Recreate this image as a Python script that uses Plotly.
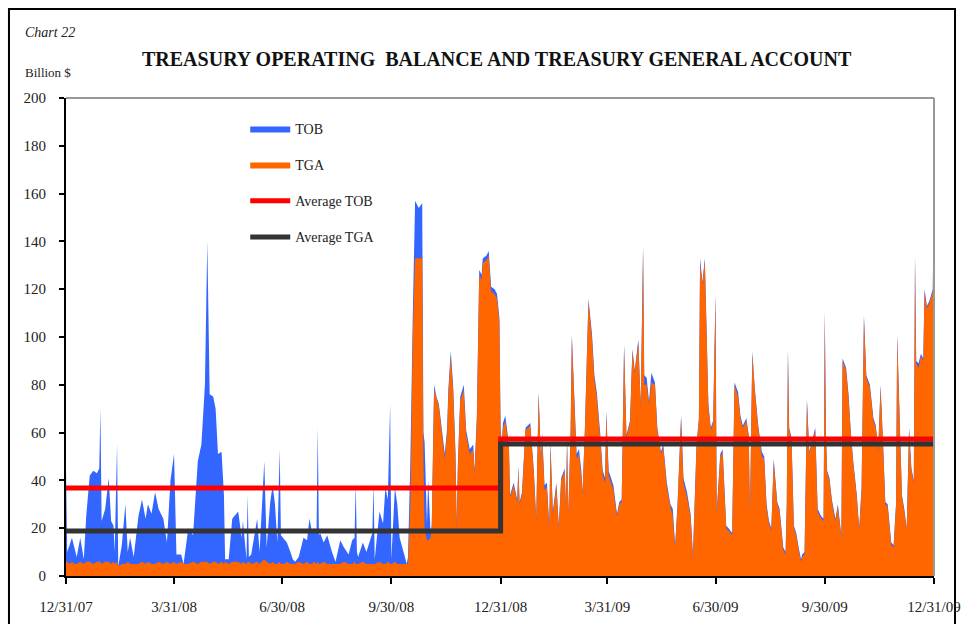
import plotly.graph_objects as go
import pandas as pd

# day offsets from 12/31/07
days_a = [0,1,3,5,7,9,12,15,17,20,23,26,28,29,30,33,36,38,40,41,
          43,44,47,50,52,54,57,61,64,67,69,72,75,78,82,85,88,91,93,97,
          99,103,107,111,114,117,119,121,124,126,128,131,133,134,137,140,145,148,149,152,
          153,154,156,161,163,167,169,172,174,176,178,180,181,184,186,189,191,193,196,200,
          203,205,207,209,211,212,213,214,217,220,224,227,231,234,238,241,243,244,245,246,
          250,253,256,258,259,260,264,267,269,271,273,274,277,279,281,285,287]
tob_a = [45,10,13,16,12,8,16,7,25,42,44,43,45,70,23,28,41,23,21,10,
         55,4,13,30,10,16,8,25,32,24,30,26,35,28,24,14,40,51,9,9,
         5,20,17,48,55,80,140,76,75,70,51,52,34,7,7,24,27,16,23,7,
         34,8,9,24,10,48,12,31,38,30,14,53,17,15,14,10,7,6,8,16,
         15,24,19,20,18,62,17,18,14,17,10,6,15,12,9,15,16,39,10,8,
         14,10,15,18,39,7,27,22,37,32,72,7,37,30,16,9,5]
tga_a = [6,6,5,6,5,5,6,5,6,6,5,6,6,6,5,6,6,5,6,5,
         6,4,5,5,6,5,5,5,6,5,6,5,5,6,5,6,5,6,5,6,
         5,5,6,5,6,6,6,5,6,6,5,6,5,6,5,6,6,5,6,5,
         6,6,5,6,5,7,6,5,6,5,5,6,5,5,6,5,5,5,6,5,
         6,5,5,6,5,6,5,5,6,5,5,5,5,6,5,5,6,5,5,5,
         6,5,5,5,5,5,6,5,5,6,5,5,6,5,5,5,5]

days_b = [288,290,292,294,297,300,301,302,304,305,307,308,310,312,314,316,319,321,322,324,
          326,328,329,330,332,335,337,340,343,344,346,348,350,351,354,356,358,361,363,365,
          366,367,368,370]
tob_b = [8,48,108,157,154,156,60,56,22,40,18,21,80,75,72,64,51,62,78,94,
         80,52,22,47,75,80,61,53,55,44,67,128,126,133,134,136,121,120,118,108,
         62,55,64,67]
tga_b = [5,30,100,133,133,133,50,20,15,15,16,20,78,74,71,62,49,60,76,92,
         78,50,20,45,73,78,59,51,53,42,65,126,124,131,132,134,119,118,116,106,
         60,53,62,65]

days_c = [373,374,377,380,381,382,384,387,391,394,396,398,400,401,403,405,407,408,410,413,
          415,417,420,421,422,423,425,426,428,430,432,434,435,437,440,443,445,447,450,452,
          454,455,457,461,464,466,468,470,472,475,477,479,482,484,486,487,489,491,493,496,
          498,501,503,506,509,511,513,515,518,520,523,526,528,531,533,534,536,538,541,543,
          545,547,548]
tob_c = [55,34,39,32,46,31,35,62,64,44,24,77,49,60,38,39,21,56,27,39,
         21,41,45,30,58,26,62,101,72,51,53,44,35,62,116,101,84,77,59,44,
         41,69,44,38,26,31,32,97,59,65,95,86,99,72,138,84,83,73,85,81,
         62,52,55,39,30,28,13,30,67,41,35,26,9,55,66,133,123,133,72,62,
         65,118,27]
tga_c = [54,33,38,31,45,30,34,61,63,43,23,76,48,59,36,37,20,55,26,38,
         20,40,44,29,57,25,60,100,70,49,51,42,34,61,115,99,82,75,57,42,
         39,68,42,36,25,30,31,96,58,64,94,85,98,70,137,80,80,72,81,80,
         61,51,54,37,29,25,12,29,66,39,33,25,8,54,65,131,122,132,71,61,
         64,117,26]

days_d = [551,553,556,558,561,563,566,568,570,573,575,576,578,580,583,586,588,590,592,594,
          596,599,601,604,606,607,608,609,611,613,615,617,619,620,622,624,626,628,631,633,
          636,638,639,640,641,643,645,648,650,653,654,657,659,661,663,666,668,670,672,674,
          677,680,682,684,686,688,690,692,695,697,699,700,702,704,706,708,710,712,714,715,
          716,718,720,722,723,725,727,729,730,731]
tob_d = [51,53,21,20,18,81,77,67,63,66,59,27,94,79,63,52,50,30,23,20,
         49,31,28,12,10,30,95,62,58,21,18,12,7,9,10,74,52,56,62,28,
         25,24,111,60,44,41,32,24,30,17,91,87,76,60,48,34,20,37,109,84,
         80,66,63,53,80,57,31,30,14,13,30,101,63,34,28,20,62,45,40,134,
         90,89,93,91,120,113,115,118,120,175]
tga_d = [50,52,20,19,17,80,75,66,62,65,58,26,93,78,62,50,49,29,22,19,
         48,30,27,11,9,29,94,61,57,20,17,11,6,8,9,73,51,55,61,27,
         24,23,110,59,43,40,31,23,29,16,90,86,75,59,47,33,19,36,108,83,
         79,65,62,52,79,56,30,29,13,12,29,100,62,33,27,19,61,44,39,133,
         89,87,92,90,119,112,114,117,119,175]

# yearly averages (2008, 2009)
avg_dates = ['2007-12-31', '2008-12-31', '2008-12-31', '2009-12-31']
avg_tob = [36.8, 36.8, 57.3, 57.3]
avg_tga = [18.8, 18.8, 55.2, 55.2]

tick_dates = ['2007-12-31', '2008-03-31', '2008-06-30', '2008-09-30', '2008-12-31',
              '2009-03-31', '2009-06-30', '2009-09-30', '2009-12-31']
tick_text = ['12/31/07', '3/31/08', '6/30/08', '9/30/08', '12/31/08',
             '3/31/09', '6/30/09', '9/30/09', '12/31/09']

days = days_a + days_b + days_c + days_d
tob = tob_a + tob_b + tob_c + tob_d
tga = tga_a + tga_b + tga_c + tga_d
assert len(days) == len(tob) == len(tga)
dates = pd.Timestamp('2007-12-31') + pd.to_timedelta(days, unit='D')

serif = 'Liberation Serif'

fig = go.Figure()
fig.add_trace(go.Scatter(x=dates, y=tob, name='TOB', mode='lines', line=dict(width=0, color='#3366FF'),
                         fill='tozeroy', fillcolor='#3366FF', legendgroup='a'))
fig.add_trace(go.Scatter(x=dates, y=tga, name='TGA', mode='lines', line=dict(width=0, color='#FF6600'),
                         fill='tozeroy', fillcolor='#FF6600', legendgroup='b'))
fig.add_trace(go.Scatter(x=avg_dates, y=avg_tob, name='Average TOB', mode='lines',
                         line=dict(width=5, color='#FF0000'), legendgroup='c'))
fig.add_trace(go.Scatter(x=avg_dates, y=avg_tga, name='Average TGA', mode='lines',
                         line=dict(width=5, color='#333333'), legendgroup='d'))

fig.update_layout(
    width=967, height=624,
    margin=dict(l=66, r=33, t=98, b=48),
    plot_bgcolor='white', paper_bgcolor='white',
    font=dict(family=serif, size=14, color='#222222'),
    showlegend=True,
    legend=dict(x=0.2065, y=0.969, xanchor='left', yanchor='top', bgcolor='rgba(0,0,0,0)',
                font=dict(family=serif, size=14, color='#222222'), tracegroupgap=15, itemwidth=40),
    xaxis=dict(type='date', range=['2007-12-31', '2009-12-31'], tickvals=tick_dates, ticktext=tick_text,
               showgrid=False, showline=True, linecolor='black', linewidth=2, ticks='outside',
               ticklen=6, tickcolor='black', tickwidth=1.5, ticklabelstandoff=10, automargin=False,
               tickfont=dict(family=serif, size=15, color='#222222'), zeroline=False),
    yaxis=dict(range=[0, 200], dtick=20, showgrid=False, showline=True, linecolor='black', linewidth=2,
               ticks='outside', ticklen=5, tickcolor='black', tickwidth=1.5, ticklabelstandoff=10,
               automargin=False, tickfont=dict(family=serif, size=15, color='#222222'), zeroline=False),
    annotations=[
        dict(text='<b>TREASURY OPERATING  BALANCE AND TREASURY GENERAL ACCOUNT</b>', x=0.4965, y=1.0816,
             xref='paper', yref='paper', xanchor='center', yanchor='middle', showarrow=False,
             font=dict(family=serif, size=20, color='#111111')),
        dict(text='<i>Chart 22</i>', x=-0.0495, y=1.136, xref='paper', yref='paper', xanchor='left',
             yanchor='middle', showarrow=False, font=dict(family=serif, size=14, color='#222222')),
        dict(text='Billion $', x=-0.0495, y=1.054, xref='paper', yref='paper', xanchor='left',
             yanchor='middle', showarrow=False, font=dict(family=serif, size=13, color='#222222')),
    ],
    shapes=[
        dict(type='line', xref='x domain', yref='y domain', x0=0, x1=1, y0=1, y1=1,
             line=dict(color='#999999', width=2)),
        dict(type='line', xref='x domain', yref='y domain', x0=1, x1=1, y0=0, y1=1,
             line=dict(color='#999999', width=2)),
        dict(type='rect', xref='paper', yref='paper', x0=-0.0657, x1=1.0242, y0=-0.14, y1=1.186,
             line=dict(color='black', width=2), fillcolor='rgba(0,0,0,0)', layer='below'),
    ],
)

# drop the page's default body margin so the figure fills the window
fig.write_html("out.html", config={'displayModeBar': False},
               post_script="document.body.style.margin='0';")
